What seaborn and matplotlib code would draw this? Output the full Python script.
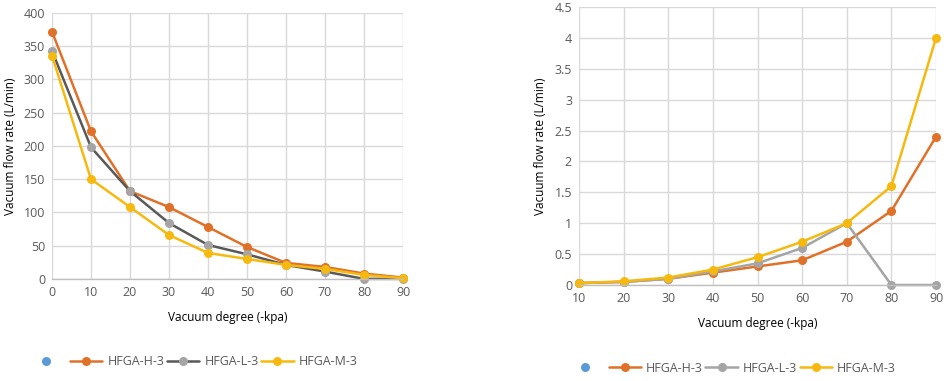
import matplotlib
matplotlib.use("Agg")
import matplotlib.pyplot as plt
import seaborn as sns
from matplotlib.lines import Line2D

# left chart: vacuum degree 0..90
x_left = [0, 10, 20, 30, 40, 50, 60, 70, 80, 90]
h3_left = [372, 222, 132, 108, 78, 48, 24, 18, 8, 2]
l3_left = [343, 198, 132, 84, 51, 37, 21, 11, 0, 0]
m3_left = [336, 150, 108, 66, 39, 30, 21, 15, 6, 1]

# right chart: vacuum degree 10..90
x_right = [10, 20, 30, 40, 50, 60, 70, 80, 90]
h3_right = [0.03, 0.05, 0.10, 0.20, 0.30, 0.40, 0.70, 1.20, 2.40]
l3_right = [0.03, 0.05, 0.10, 0.22, 0.35, 0.60, 1.00, 0.00, 0.00]
m3_right = [0.03, 0.06, 0.12, 0.25, 0.45, 0.70, 1.00, 1.60, 4.00]

names = ["HFGA-H-3", "HFGA-L-3", "HFGA-M-3"]
orange = "#e07128"
gray = "#a5a5a5"
dark = "#595959"
gold = "#f5b90f"
blue = "#5b9bd5"

sns.set_theme(style="white")
plt.rcParams["font.family"] = ["Open Sans", "DejaVu Sans"]

MS = 6.5
LW = 1.8

fig = plt.figure(figsize=(9.45, 3.81), dpi=100)
ax1 = fig.add_axes([0.055, 0.268, 0.3715, 0.698])
ax2 = fig.add_axes([0.6127, 0.252, 0.3778, 0.7296])


def style_axes(ax, xticks, ylim, yticks, ylabels):
    ax.set_xlim(xticks[0], xticks[-1])
    ax.set_xticks(xticks)
    ax.set_ylim(*ylim)
    ax.set_yticks(yticks)
    ax.set_yticklabels(ylabels)
    ax.grid(True, color="#d9d9d9", linewidth=1)
    for s in ax.spines.values():
        s.set_visible(False)
    ax.spines["bottom"].set_visible(True)
    ax.spines["bottom"].set_color("#bfbfbf")
    ax.spines["bottom"].set_linewidth(1)
    ax.tick_params(axis="both", colors="#595959", labelsize=9, length=0, pad=5)
    ax.set_xlabel("Vacuum degree (-kpa)", fontsize=8.5, color="black", labelpad=9)
    ax.set_ylabel("Vacuum flow rate (L/min)", fontsize=8.5, color="black", labelpad=5)
    ax.set_axisbelow(True)


def draw(ax, x, y, line_color, face_color):
    sns.lineplot(x=x, y=y, ax=ax, color=line_color, marker="o", markersize=MS,
                 markerfacecolor=face_color, markeredgewidth=0, linewidth=LW,
                 clip_on=False)


# left panel
draw(ax1, x_left, h3_left, orange, orange)
draw(ax1, x_left, l3_left, dark, gray)
draw(ax1, x_left, m3_left, gold, gold)
style_axes(ax1, x_left, (0, 400), range(0, 401, 50), [str(v) for v in range(0, 401, 50)])

# right panel
draw(ax2, x_right, h3_right, orange, orange)
draw(ax2, x_right, l3_right, gray, gray)
draw(ax2, x_right, m3_right, gold, gold)
yt = [i * 0.5 for i in range(10)]
style_axes(ax2, x_right, (0, 4.5), yt, ["{:g}".format(v) for v in yt])


def make_legend(line_colors, marker_colors, anchor):
    handles = [Line2D([], [], linestyle="none", marker="o", markersize=MS,
                      color=blue, markeredgewidth=0)]
    for lc, mc in zip(line_colors, marker_colors):
        handles.append(Line2D([], [], color=lc, linewidth=LW, marker="o", markersize=MS,
                              markerfacecolor=mc, markeredgewidth=0))
    fig.legend(handles, [""] + names, loc="center", bbox_to_anchor=anchor, ncol=4,
               frameon=False, fontsize=9, handlelength=2.6, handletextpad=0.4,
               columnspacing=0.2, labelcolor="#595959")


make_legend([orange, dark, gold], [orange, gray, gold], (0.205, 0.05))
make_legend([orange, gray, gold], [orange, gray, gold], (0.775, 0.034))

fig.savefig("out.png", dpi=100)
